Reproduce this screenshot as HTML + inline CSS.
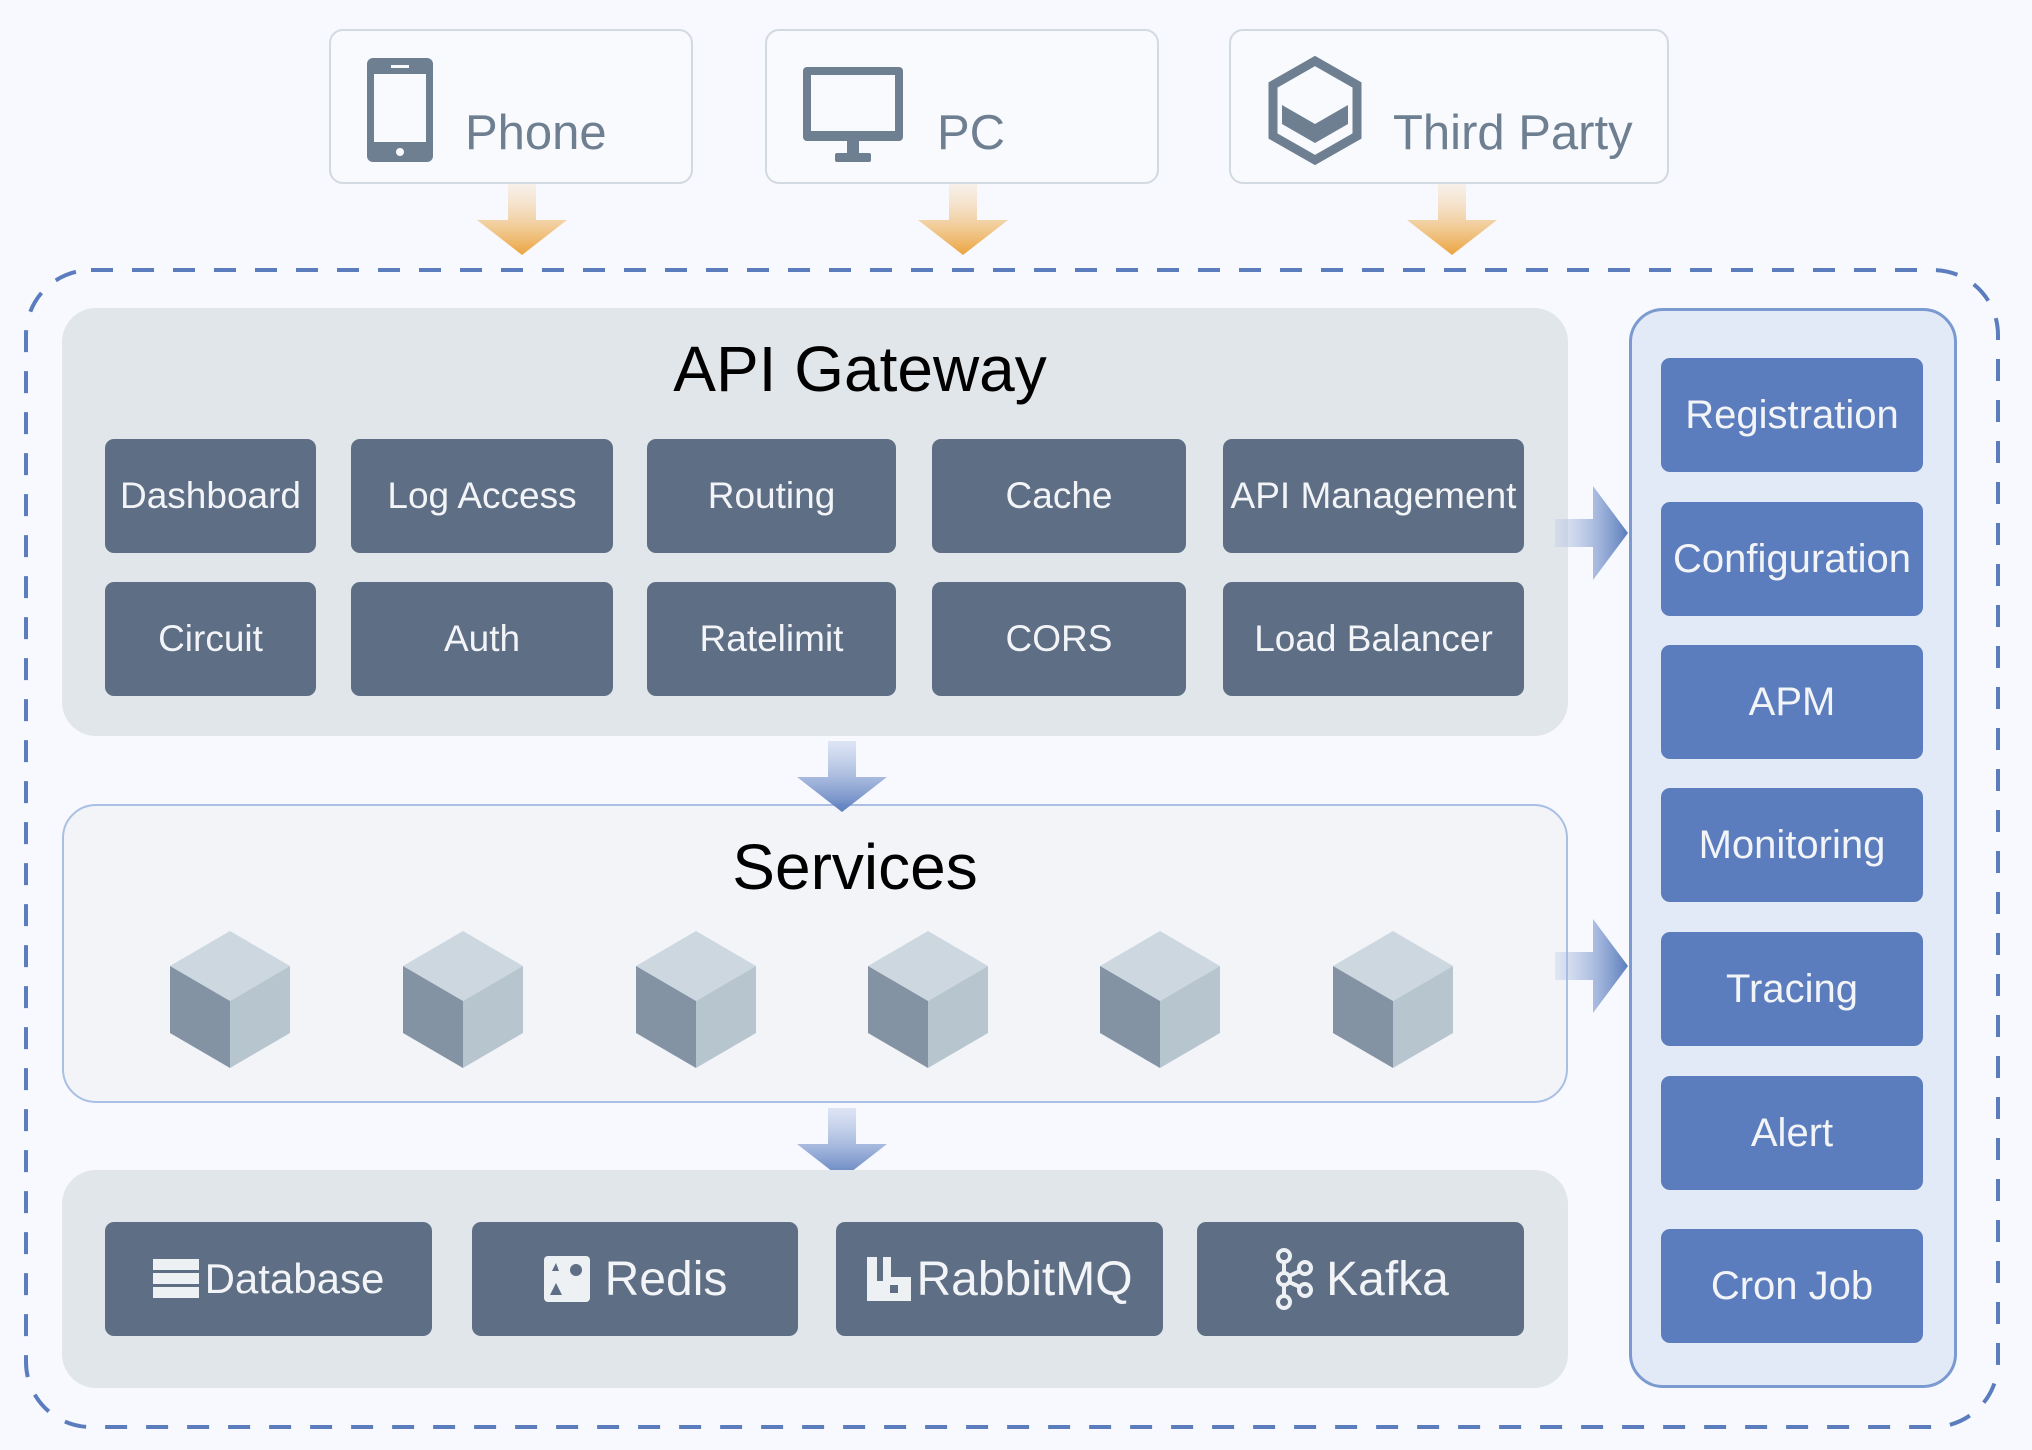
<!DOCTYPE html>
<html><head><meta charset="utf-8"><style>
*{margin:0;padding:0;box-sizing:border-box}
body{width:2032px;height:1450px;background:#f8f9fe;position:relative;overflow:hidden;font-family:"Liberation Sans",sans-serif}
.a{position:absolute}
.c{position:absolute;display:flex;align-items:center;justify-content:center;color:#f2f4f7;font-size:37px;border-radius:9px}
.d{background:#5e6e84}
.b{background:#5b7dbd;font-size:40px}
.cl{position:absolute;border:2px solid #d3d9e0;border-radius:14px;background:#f9fafd}
.cl span{position:absolute;color:#6d7f91;font-size:49px}
</style></head><body>
<div class="cl" style="left:329px;top:29px;width:364px;height:155px">
<svg class="a" style="left:34px;top:25px" width="70" height="108" viewBox="0 0 70 108"><rect x="2" y="2" width="66" height="104" rx="6" fill="#6d7f91"/><rect x="9" y="18" width="52" height="68" fill="#f9fafd"/><rect x="26" y="9" width="18" height="3" fill="#f9fafd"/><circle cx="35" cy="96" r="4" fill="#f9fafd"/></svg>
<span style="left:134px;top:74px">Phone</span></div>
<div class="cl" style="left:765px;top:29px;width:394px;height:155px">
<svg class="a" style="left:34px;top:34px" width="104" height="102" viewBox="0 0 104 102"><rect x="2" y="2" width="100" height="74" rx="4" fill="#6d7f91"/><rect x="10" y="10" width="84" height="56" fill="#f9fafd"/><rect x="46" y="76" width="12" height="14" fill="#6d7f91"/><rect x="34" y="88" width="36" height="9" rx="2" fill="#6d7f91"/></svg>
<span style="left:170px;top:74px">PC</span></div>
<div class="cl" style="left:1229px;top:29px;width:440px;height:155px">
<svg class="a" style="left:34px;top:25px" width="100" height="110" viewBox="0 0 100 110"><polygon points="50,5 92,29 92,80 50,104 8,80 8,29" fill="none" stroke="#6d7f91" stroke-width="9"/><polygon points="17,49 50,68 83,49 83,68 50,87 17,68" fill="#6d7f91"/></svg>
<span style="left:162px;top:74px">Third Party</span></div>

<svg class="a" style="left:0;top:0" width="2032" height="1450">
<defs>
<linearGradient id="og" x1="0" y1="0" x2="0" y2="1"><stop offset="0" stop-color="#f5e3cc" stop-opacity=".4"/><stop offset="1" stop-color="#eba43e"/></linearGradient>
<linearGradient id="bg" x1="0" y1="0" x2="0" y2="1"><stop offset="0" stop-color="#b6c6e6" stop-opacity=".4"/><stop offset="1" stop-color="#5b7dbd"/></linearGradient>
<linearGradient id="bh" x1="0" y1="0" x2="1" y2="0"><stop offset="0" stop-color="#b6c6e6" stop-opacity=".3"/><stop offset="1" stop-color="#5b7dbd"/></linearGradient>
</defs>
<g fill="url(#og)">
<path d="M508,184h28v36h31l-45,35l-45,-35h31z"/>
<path d="M949,184h28v36h31l-45,35l-45,-35h31z"/>
<path d="M1438,184h28v36h31l-45,35l-45,-35h31z"/>
</g>
<rect x="26" y="270" width="1972" height="1157" rx="65" fill="none" stroke="#5b7dbd" stroke-width="4" stroke-dasharray="22 19"/>
</svg>

<div class="a" style="left:62px;top:308px;width:1506px;height:428px;background:#e1e6ea;border-radius:34px"></div>
<div class="a" style="left:62px;top:332px;width:1596px;text-align:center;font-size:64px;color:#000">API Gateway</div>
<div class="c d" style="left:105px;top:439px;width:211px;height:114px">Dashboard</div>
<div class="c d" style="left:351px;top:439px;width:262px;height:114px">Log Access</div>
<div class="c d" style="left:647px;top:439px;width:249px;height:114px">Routing</div>
<div class="c d" style="left:932px;top:439px;width:254px;height:114px">Cache</div>
<div class="c d" style="left:1223px;top:439px;width:301px;height:114px">API Management</div>
<div class="c d" style="left:105px;top:582px;width:211px;height:114px">Circuit</div>
<div class="c d" style="left:351px;top:582px;width:262px;height:114px">Auth</div>
<div class="c d" style="left:647px;top:582px;width:249px;height:114px">Ratelimit</div>
<div class="c d" style="left:932px;top:582px;width:254px;height:114px">CORS</div>
<div class="c d" style="left:1223px;top:582px;width:301px;height:114px">Load Balancer</div>

<div class="a" style="left:62px;top:804px;width:1506px;height:299px;background:#f2f4f8;border:2px solid #a9bfe3;border-radius:34px"></div>
<div class="a" style="left:62px;top:830px;width:1586px;text-align:center;font-size:64px;color:#000">Services</div>
<svg class="a" style="left:0;top:0" width="2032" height="1450">
<defs><g id="cube"><polygon points="0,0 60,35 0,70 -60,35" fill="#cdd7e0"/><polygon points="-60,35 0,70 0,137 -60,102" fill="#8393a3"/><polygon points="60,35 0,70 0,137 60,102" fill="#b7c5cf"/></g></defs>
<use href="#cube" x="230" y="931"/><use href="#cube" x="463" y="931"/><use href="#cube" x="696" y="931"/><use href="#cube" x="928" y="931"/><use href="#cube" x="1160" y="931"/><use href="#cube" x="1393" y="931"/>
<path d="M828,741h28v36h31l-45,35l-45,-35h31z" fill="url(#bg)"/>
<path d="M828,1108h28v36h31l-45,35l-45,-35h31z" fill="url(#bg)"/>
<path d="M1555,519h38v-33l35,47l-35,47v-33h-38z" fill="url(#bh)"/>
<path d="M1555,952h38v-33l35,47l-35,47v-33h-38z" fill="url(#bh)"/>
</svg>

<div class="a" style="left:62px;top:1170px;width:1506px;height:218px;background:#e1e6ea;border-radius:34px"></div>
<div class="c d" style="left:105px;top:1222px;width:327px;height:114px;font-size:42px"><svg width="46" height="42" style="margin-right:6px"><g fill="#eef1f4"><rect x="0" y="1" width="46" height="11"/><rect x="0" y="15" width="46" height="11"/><rect x="0" y="29" width="46" height="11"/></g></svg>Database</div>
<div class="c d" style="left:472px;top:1222px;width:326px;height:114px;font-size:48px"><svg width="48" height="48" style="margin-right:14px"><rect x="1" y="1" width="46" height="46" rx="4" fill="#eef1f4"/><polygon points="13,8 16,16 9,16" fill="#5e6e84"/><circle cx="33" cy="15" r="6" fill="#5e6e84"/><polygon points="13,28 19,40 7,40" fill="#5e6e84"/></svg>Redis</div>
<div class="c d" style="left:836px;top:1222px;width:327px;height:114px;font-size:48px"><svg width="46" height="48" style="margin-right:4px"><path d="M1,2h10v24h6v-24h8v20h20v24h-44z" fill="#eef1f4"/><rect x="24" y="30" width="8" height="8" fill="#5e6e84"/></svg>RabbitMQ</div>
<div class="c d" style="left:1197px;top:1222px;width:327px;height:114px;font-size:48px"><svg width="44" height="62" style="margin-right:10px"><g fill="none" stroke="#eef1f4" stroke-width="4"><circle cx="12" cy="8" r="6"/><circle cx="12" cy="31" r="6"/><circle cx="12" cy="54" r="6"/><circle cx="33" cy="20" r="6"/><circle cx="33" cy="42" r="6"/><path d="M12,14v11M12,37v11M17,28l11,-5M17,34l11,5"/></g></svg>Kafka</div>

<div class="a" style="left:1629px;top:308px;width:328px;height:1080px;background:#e1eaf6;border:3px solid #7a9ad0;border-radius:34px"></div>
<div class="c b" style="left:1661px;top:358px;width:262px;height:114px">Registration</div>
<div class="c b" style="left:1661px;top:502px;width:262px;height:114px">Configuration</div>
<div class="c b" style="left:1661px;top:645px;width:262px;height:114px">APM</div>
<div class="c b" style="left:1661px;top:788px;width:262px;height:114px">Monitoring</div>
<div class="c b" style="left:1661px;top:932px;width:262px;height:114px">Tracing</div>
<div class="c b" style="left:1661px;top:1076px;width:262px;height:114px">Alert</div>
<div class="c b" style="left:1661px;top:1229px;width:262px;height:114px">Cron Job</div>
</body></html>
